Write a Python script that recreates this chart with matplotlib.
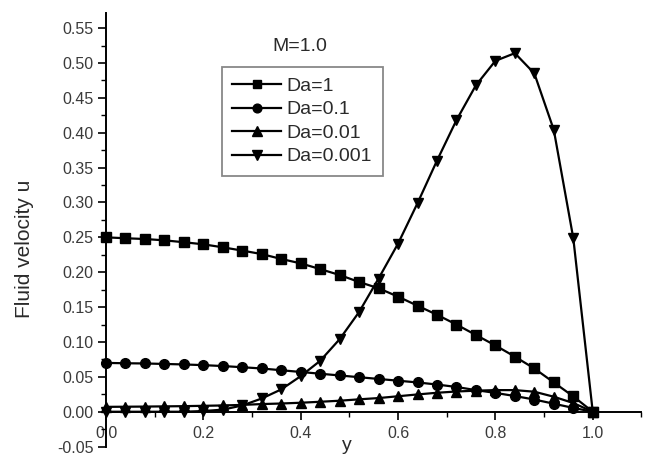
"""Fluid velocity profiles u(y) for several Darcy numbers at M=1.0."""

import matplotlib
matplotlib.use("Agg")
import matplotlib.pyplot as plt
from matplotlib.ticker import MultipleLocator, FormatStrFormatter, FixedLocator

plt.rcParams["font.family"] = ["Liberation Sans", "DejaVu Sans"]

# y positions of the plotted points (step 0.04)
y_pts = [0.00, 0.04, 0.08, 0.12, 0.16, 0.20, 0.24, 0.28, 0.32, 0.36, 0.40, 0.44, 0.48,
         0.52, 0.56, 0.60, 0.64, 0.68, 0.72, 0.76, 0.80, 0.84, 0.88, 0.92, 0.96, 1.00]

u_da1 = [0.250, 0.2487, 0.2476, 0.2457, 0.243, 0.240, 0.2357, 0.231, 0.226, 0.219,
         0.2127, 0.2045, 0.196, 0.186, 0.177, 0.165, 0.152, 0.139, 0.125, 0.110,
         0.095, 0.079, 0.062, 0.042, 0.022, 0.0]
u_da01 = [0.070, 0.0695, 0.0692, 0.0685, 0.0678, 0.0668, 0.0655, 0.0638, 0.062, 0.0595,
          0.057, 0.0545, 0.052, 0.0495, 0.047, 0.0445, 0.042, 0.039, 0.0355, 0.031,
          0.027, 0.0225, 0.0175, 0.0115, 0.0055, 0.0]
u_da001 = [0.007, 0.0072, 0.0074, 0.0077, 0.008, 0.0085, 0.009, 0.0098, 0.011, 0.0118,
           0.0129, 0.0143, 0.0158, 0.0178, 0.0196, 0.0222, 0.0248, 0.0272, 0.029, 0.0302,
           0.031, 0.031, 0.0287, 0.0215, 0.0125, 0.0]
u_da0001 = [0.0, 0.0, 0.0, 0.0, 0.0, 0.001, 0.003, 0.009, 0.019, 0.032,
            0.051, 0.073, 0.104, 0.143, 0.191, 0.241, 0.299, 0.360, 0.418, 0.468,
            0.503, 0.514, 0.485, 0.404, 0.249, 0.0]

labels = ["Da=1", "Da=0.1", "Da=0.01", "Da=0.001"]
markers = ["s", "o", "^", "v"]
msizes = [6.5, 7, 7.5, 7.5]

fig = plt.figure(figsize=(6.46, 4.61), dpi=100)
ax = fig.add_axes([0.1641, 0.0312, 0.8288, 0.9412])

for u, lab, mk, ms in zip([u_da1, u_da01, u_da001, u_da0001], labels, markers, msizes):
    ax.plot(y_pts, u, color="black", linewidth=1.6, marker=mk, markersize=ms,
            label=lab, clip_on=False)

ax.set_xlim(0, 1.1)
ax.set_ylim(-0.05, 0.572)

# only left and bottom axes; bottom axis sits at u=0
ax.spines["top"].set_visible(False)
ax.spines["right"].set_visible(False)
ax.spines["bottom"].set_position(("data", 0))
for s in ("left", "bottom"):
    ax.spines[s].set_linewidth(1.4)

ax.xaxis.set_major_locator(FixedLocator([0.0, 0.2, 0.4, 0.6, 0.8, 1.0]))
ax.xaxis.set_minor_locator(FixedLocator([0.1, 0.3, 0.5, 0.7, 0.9, 1.1]))
ax.xaxis.set_major_formatter(FormatStrFormatter("%.1f"))
ax.yaxis.set_major_locator(MultipleLocator(0.05))
ax.yaxis.set_minor_locator(MultipleLocator(0.025))
ax.yaxis.set_major_formatter(FormatStrFormatter("%.2f"))

ax.tick_params(axis="both", which="major", direction="out", length=6, width=1.2,
               labelsize=11.5, colors="black", labelcolor="#3a3a3a")
ax.tick_params(axis="both", which="minor", direction="out", length=3.5, width=1.0)
ax.tick_params(axis="x", which="major", pad=4)
ax.tick_params(axis="y", which="major", pad=3)

ax.set_xlabel("y", fontsize=14, color="#2a2a2a")
ax.xaxis.set_label_coords(0.45, 0.022)
ax.set_ylabel("Fluid velocity u", fontsize=15, color="#2a2a2a")
ax.yaxis.set_label_coords(-0.134, 0.455)

fig.text(0.4644, 0.8987, "M=1.0", fontsize=14, ha="center", va="center", color="#2a2a2a")

leg = ax.legend(loc="upper left", bbox_to_anchor=(0.343, 0.8553),
                bbox_transform=fig.transFigure, borderaxespad=0, fontsize=14,
                fancybox=False, framealpha=1, edgecolor="#888888",
                handlelength=2.5, handletextpad=0.3, labelspacing=0.3,
                borderpad=0.55, markerscale=0.9)
leg.get_frame().set_linewidth(1.3)
for t in leg.get_texts():
    t.set_color("#2a2a2a")

fig.savefig("out.png", dpi=100)
